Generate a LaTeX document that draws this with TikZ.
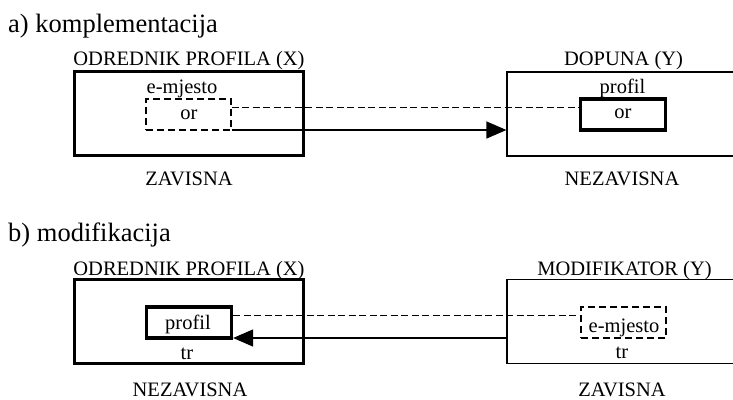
\documentclass[tikz,border=0pt]{standalone}
\usepackage{fontspec}
\setmainfont{Liberation Serif}
\usetikzlibrary{arrows.meta}
\begin{document}
\begin{tikzpicture}[x=1pt,y=-1pt,
  lbl/.style={font=\fontsize{20.5}{24}\selectfont, inner sep=0pt, anchor=base},
  ttl/.style={font=\fontsize{26.5}{30}\selectfont, inner sep=0pt, anchor=base west},
  headbox/.style={draw, line width=3.2pt, minimum width=229pt, minimum height=84pt, inner sep=0pt},
  otherbox/.style={draw, line width=1.2pt, minimum width=232pt, minimum height=84pt, inner sep=0pt},
  slotbox/.style={draw, line width=1.5pt, dash pattern=on 7pt off 4pt, minimum width=85pt, minimum height=31pt, inner sep=0pt},
  profbox/.style={draw, line width=3.2pt, minimum width=85pt, minimum height=31pt, inner sep=0pt},
  corr/.style={line width=1.3pt, dash pattern=on 7pt off 3.5pt},
  dep/.style={line width=1.2pt, -{Triangle[length=20pt,width=17pt]}}]
\useasboundingbox (0,0) rectangle (733,399);
\clip (0,0) rectangle (733,399);

% ---------- a) complementation ----------
\node[ttl] (ta) at (8,32) {a) komplementacija};
\node[headbox] (Xa) at (189,113.5) {};
\node[otherbox] (Ya) at (623,114) {};
\node[slotbox] (ea) at (188.5,114.5) {};
\node[profbox] (pa) at (623,114.5) {};

\node[lbl] (lXa) at (189,65) {ODREDNIK PROFILA (X)};
\node[lbl] (lea) at (182,93) {e-mjesto};
\node[lbl] (oa1) at (189,119) {or};
\node[lbl] (dXa) at (189,185) {ZAVISNA};
\node[lbl] (lYa) at (623.5,65) {DOPUNA (Y)};
\node[lbl] (lpa) at (622.5,93) {profil};
\node[lbl] (oa2) at (623,118) {or};
\node[lbl] (dYa) at (622,185) {NEZAVISNA};

\coordinate (hda) at (0,107.5);
\coordinate (hsa) at (0,130);
\draw[corr] (ea.east |- hda) -- (pa.west |- hda);
\draw[dep] (ea.east |- hsa) -- (Ya.west |- hsa);

% ---------- b) modification ----------
\node[ttl] (tb) at (8,241) {b) modifikacija};
\node[headbox] (Xb) at (189,321.5) {};
\node[otherbox] (Yb) at (623,321.5) {};
\node[profbox] (pb) at (189,322.5) {};
\node[slotbox] (eb) at (623.5,322.5) {};

\node[lbl] (lXb) at (189,275) {ODREDNIK PROFILA (X)};
\node[lbl] (lpb) at (188,329) {profil};
\node[lbl] (trb1) at (187,359) {tr};
\node[lbl] (dXb) at (190,396) {NEZAVISNA};
\node[lbl] (lYb) at (624.5,275) {MODIFIKATOR (Y)};
\node[lbl] (leb) at (624,332) {e-mjesto};
\node[lbl] (trb2) at (622,358) {tr};
\node[lbl] (dYb) at (622,396) {ZAVISNA};

\coordinate (hdb) at (0,315.5);
\coordinate (hsb) at (0,338);
\draw[corr] (pb.east |- hdb) -- (eb.west |- hdb);
\draw[dep] (Yb.west |- hsb) -- (pb.east |- hsb);
\end{tikzpicture}
\end{document}
